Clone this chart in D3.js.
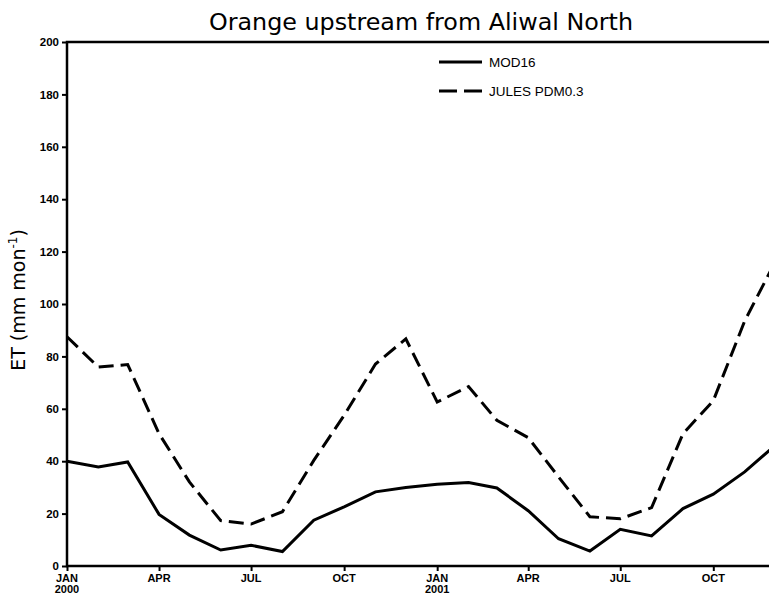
<!DOCTYPE html>
<html>
<head>
<meta charset="utf-8">
<script src="https://cdn.jsdelivr.net/npm/d3@7"></script>
<style>
    body { margin: 0; background: #fff; }
    svg { display: block; }
</style>
</head>
<body>
<svg id="chart" width="769" height="597"></svg>
<script>
// monthly ET, Jan 2000 .. Dec 2001
const months = d3.utcMonths(new Date(Date.UTC(2000, 0, 1)), new Date(Date.UTC(2002, 0, 1)));

const mod16 = [40.0, 37.8, 39.7, 19.7, 11.8, 6.1, 7.9, 5.5, 17.5, 22.6, 28.3, 30.0,
    31.2, 31.9, 29.8, 21.1, 10.4, 5.7, 14.0, 11.5, 21.9, 27.4, 35.9, 46.0];

const jules = [87.5, 75.9, 76.9, 50.5, 32.1, 17.3, 16.0, 20.7, 40.3, 57.5, 77.1, 86.7,
    62.6, 68.5, 55.6, 49.0, 34.0, 18.8, 18.0, 22.3, 50.5, 63.1, 93.5, 116.0];

const yTicks = [0, 20, 40, 60, 80, 100, 120, 140, 160, 180, 200];
const xTickMonths = ["JAN", "APR", "JUL", "OCT"];

const seriesNames = ["MOD16", "JULES PDM0.3"];

const svg = d3.select("#chart");

const margin = {left: 67, top: 42, bottom: 566};

const x = d3.scaleUtc()
    .domain([months[0], months[months.length - 1]])
    .range([margin.left, 775]);

const y = d3.scaleLinear()
    .domain([0, 200])
    .range([margin.bottom, margin.top]);

const tickFont = "'Liberation Sans', Arial, sans-serif";

// title
svg.append("text")
    .attr("x", 421)
    .attr("y", 30)
    .attr("text-anchor", "middle")
    .attr("font-family", "'DejaVu Sans', sans-serif")
    .attr("font-size", 23)
    .attr("textLength", 424)
    .attr("lengthAdjust", "spacingAndGlyphs")
    .text("Orange upstream from Aliwal North");

// y label
const yl = svg.append("text")
    .attr("transform", "translate(25,300) rotate(-90)")
    .attr("text-anchor", "middle")
    .attr("font-family", "'DejaVu Sans', sans-serif")
    .attr("font-size", 19)
    .attr("fill", "#000");
yl.append("tspan").text("ET (mm mon");
yl.append("tspan").attr("font-size", 12).attr("dy", -8).text("-1");
yl.append("tspan").attr("dy", 8).text(")");

// lines
const line = d3.line()
    .x((d, i) => x(months[i]))
    .y(d => y(d));

svg.append("path")
    .datum(jules)
    .attr("fill", "none")
    .attr("stroke", "#000")
    .attr("stroke-width", 3)
    .attr("stroke-dasharray", "15,7")
    .attr("d", line);

svg.append("path")
    .datum(mod16)
    .attr("fill", "none")
    .attr("stroke", "#000")
    .attr("stroke-width", 3)
    .attr("d", line);

// y axis
const yAxis = svg.append("g")
    .attr("transform", `translate(${margin.left},0)`)
    .call(d3.axisLeft(y).tickValues(yTicks).tickSize(5).tickPadding(3).tickFormat(d3.format("d")));
yAxis.select(".domain").remove();
yAxis.selectAll("line").attr("stroke-width", 2);
yAxis.selectAll("text")
    .attr("font-family", tickFont)
    .attr("font-size", 11.5)
    .attr("font-weight", "bold")
    .attr("fill", "#000");

// x axis ticks
const xTicks = months.filter(m => m.getUTCMonth() % 3 === 0);
const xAxis = svg.append("g")
    .attr("transform", `translate(0,${margin.bottom})`)
    .call(d3.axisBottom(x).tickValues(xTicks).tickSize(5).tickFormat(""));
xAxis.select(".domain").remove();
xAxis.selectAll("line").attr("stroke-width", 2);

const xl = svg.append("g")
    .attr("font-family", tickFont)
    .attr("font-size", 11)
    .attr("font-weight", "bold")
    .attr("text-anchor", "middle");
xTicks.forEach(m => {
    xl.append("text")
        .attr("x", x(m))
        .attr("y", 582)
        .text(xTickMonths[m.getUTCMonth() / 3]);
    if (m.getUTCMonth() === 0) {
        xl.append("text")
            .attr("x", x(m))
            .attr("y", 593)
            .text(m.getUTCFullYear());
    }
});

// frame
svg.append("path")
    .attr("d", `M775,${margin.top}H${margin.left}V${margin.bottom}H775`)
    .attr("fill", "none")
    .attr("stroke", "#000")
    .attr("stroke-width", 2.5);

// legend
const legend = svg.append("g")
    .attr("font-family", tickFont)
    .attr("font-size", 13.5);
seriesNames.forEach((name, i) => {
    const ly = 62 + i * 29;
    legend.append("line")
        .attr("x1", 439).attr("x2", 482)
        .attr("y1", ly).attr("y2", ly)
        .attr("stroke", "#000")
        .attr("stroke-width", 3)
        .attr("stroke-dasharray", i === 0 ? null : "18,7");
    legend.append("text")
        .attr("x", 489)
        .attr("y", ly + 5)
        .text(name);
});
</script>
</body>
</html>
